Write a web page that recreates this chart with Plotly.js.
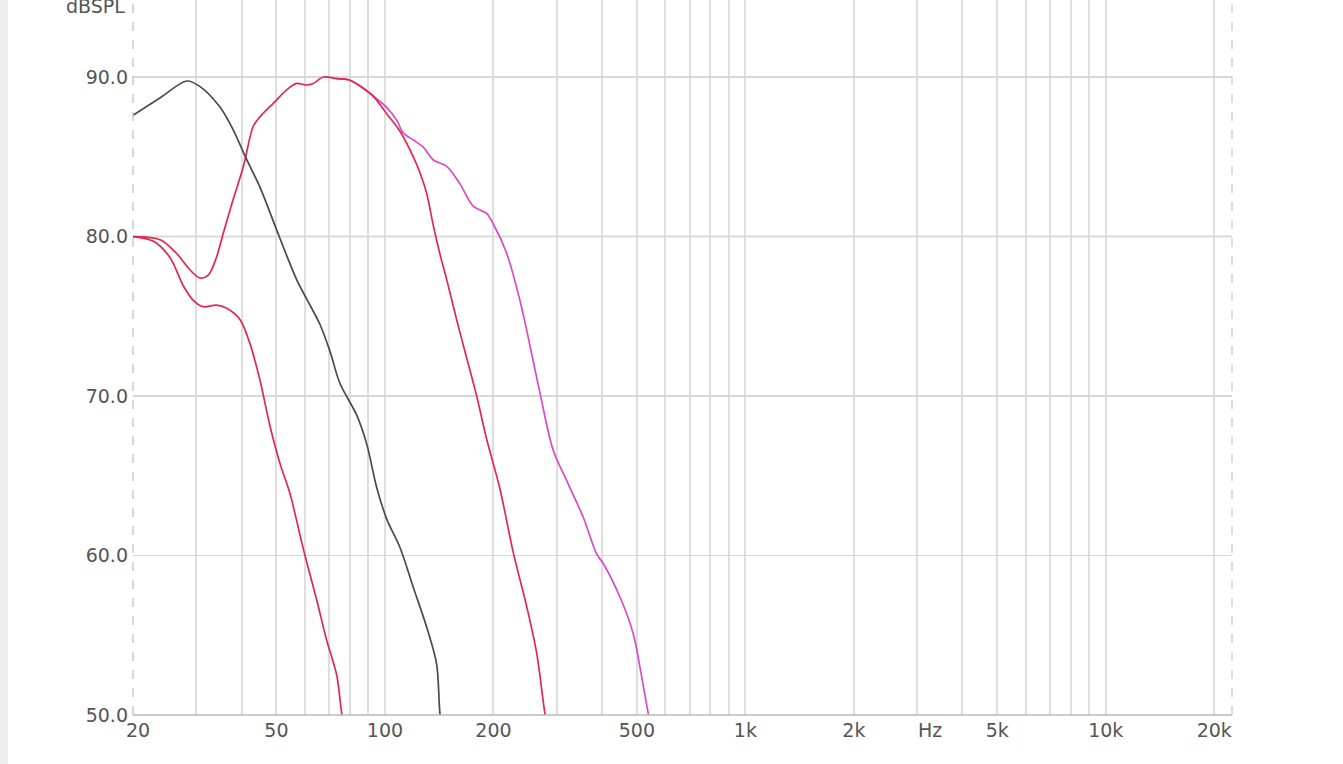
<!DOCTYPE html>
<html>
<head>
<meta charset="utf-8">
<script src="https://cdn.plot.ly/plotly-3.0.1.min.js"></script>
<style>
  html, body { margin: 0; padding: 0; background: #ffffff; }
  #chart { width: 1343px; height: 764px; }
</style>
</head>
<body>
<div id="chart"></div>
<script>
// ---- Data (frequency in Hz, level in dBSPL) ----
const freqBlack = [20.0, 23.8, 28.2, 30.7, 34.9, 37.9, 41.4, 45.0, 50.1, 53.4, 56.9, 60.6, 66.0, 70.4, 75.0, 83.5, 89.0, 94.8, 101.1, 110.1, 119.9, 130.6, 139.1, 142.1, 146.0];
const splBlack  = [87.6, 88.7, 89.75, 89.4, 88.1, 86.7, 84.8, 83.1, 80.4, 78.8, 77.3, 76.1, 74.5, 72.8, 70.8, 68.8, 67.0, 64.3, 62.3, 60.5, 58.0, 55.5, 53.2, 50.1, 48.0];

const freqRedA = [20.0, 22.8, 25.3, 27.6, 29.4, 31.3, 34.1, 36.4, 39.6, 42.2, 45.0, 48.0, 51.1, 54.5, 58.1, 60.0, 64.7, 68.9, 73.5, 75.9, 78.0];
const splRedA  = [80.0, 79.7, 78.7, 76.9, 76.0, 75.6, 75.7, 75.5, 74.8, 73.3, 71.0, 68.1, 65.8, 63.9, 61.3, 60.0, 57.2, 54.7, 52.5, 50.1, 48.8];

const freqRedB = [20.0, 23.8, 26.4, 28.8, 30.7, 32.4, 34.1, 35.6, 37.9, 40.5, 43.1, 45.0, 49.0, 53.4, 56.9, 60.6, 63.3, 67.5, 73.5, 80.0, 87.1, 92.8, 101.1, 110.1, 119.9, 125.1, 130.6, 136.2, 142.1, 148.4, 158.1, 168.5, 179.7, 191.5, 208.4, 227.0, 247.4, 263.6, 277.9, 285.0];
const splRedB  = [80.0, 79.8, 78.95, 77.9, 77.4, 77.6, 78.7, 80.2, 82.3, 84.4, 86.9, 87.5, 88.35, 89.2, 89.6, 89.5, 89.6, 90.0, 89.9, 89.8, 89.3, 88.8, 87.7, 86.6, 85.0, 84.0, 82.7, 80.7, 78.9, 77.3, 74.8, 72.4, 70.0, 67.3, 64.2, 60.2, 56.8, 53.9, 50.1, 48.8];

const freqMagenta = [73.5, 80.0, 87.1, 92.8, 101.1, 107.8, 112.4, 119.9, 127.8, 136.2, 148.4, 161.5, 175.8, 191.5, 199.7, 217.7, 236.9, 252.4, 269.2, 293.0, 319.3, 355.0, 386.7, 403.4, 448.8, 488.6, 510.0, 537.6, 550.0];
const splMagenta  = [89.9, 89.8, 89.3, 88.8, 88.1, 87.3, 86.5, 86.05, 85.6, 84.8, 84.4, 83.3, 81.9, 81.45, 80.8, 78.95, 76.0, 73.2, 70.2, 66.6, 64.7, 62.4, 60.1, 59.5, 57.4, 55.1, 53.0, 50.1, 49.0];

// Axis ticks
const xGridVals = [20,30,40,50,60,70,80,90,100,200,300,400,500,600,700,800,900,1000,2000,3000,4000,5000,6000,7000,8000,9000,10000,20000];
const xLabelMap = {50:'50', 100:'100', 200:'200', 500:'500', 1000:'1k', 2000:'2k', 5000:'5k', 10000:'10k', 20000:'20k'};
const xFirstLabel = '20';
const yTickVals = [50, 60, 70, 80, 90];
const yStrongGrid = [80, 90];
const yAxisName = 'dBSPL';
const xAxisName = 'Hz';

const FONT = 'DejaVu Sans, Liberation Sans, Arial, sans-serif';
const lw = 1.7;

function mk(x, y, color) {
  return { x: x, y: y, type: 'scatter', mode: 'lines',
           line: { color: color, width: lw, shape: 'spline', smoothing: 0.9 },
           hoverinfo: 'skip', showlegend: false };
}

const traces = [
  mk(freqMagenta, splMagenta, '#d84bc6'),
  mk(freqRedA, splRedA, '#e2284f'),
  mk(freqRedB, splRedB, '#e2284f'),
  mk(freqBlack, splBlack, '#4a4a4a')
];

const plotL = 133, plotR = 1232, plotB = 715;
const plotW = plotR - plotL;
const plotH = plotB;

const shapes = [
  { type: 'rect', xref: 'paper', yref: 'paper', x0: -plotL / plotW, x1: (8 - plotL) / plotW, y0: -49 / plotH, y1: 715 / plotH,
    fillcolor: '#eeeeee', line: { width: 0 }, layer: 'below' }
];
yStrongGrid.forEach(v => shapes.push({
  type: 'line', xref: 'paper', yref: 'y', x0: 0, x1: 1, y0: v, y1: v,
  line: { color: '#bcbcbc', width: 1.5 }, layer: 'below'
}));
shapes.push(
  { type: 'line', xref: 'paper', yref: 'paper', x0: 0, x1: 1, y0: 0, y1: 0,
    line: { color: '#b8b8b8', width: 1.5 } },
  { type: 'line', xref: 'paper', yref: 'paper', x0: 0, x1: 0, y0: 0, y1: 1,
    line: { color: '#c4c4c4', width: 1.3, dash: 'dash' } },
  { type: 'line', xref: 'paper', yref: 'paper', x0: 1, x1: 1, y0: 0, y1: 1,
    line: { color: '#cccccc', width: 1.3, dash: 'dash' } }
);

const layout = {
  width: 1343, height: 764,
  margin: { l: plotL, r: 1343 - plotR, t: 0, b: 764 - plotB, pad: 0 },
  paper_bgcolor: '#ffffff', plot_bgcolor: '#ffffff',
  showlegend: false,
  font: { family: FONT, size: 19, color: '#555555' },
  xaxis: {
    type: 'log',
    range: [Math.log10(20), Math.log10(22400)],
    tickmode: 'array',
    tickvals: xGridVals,
    ticktext: xGridVals.map(v => xLabelMap[v] || ''),
    showgrid: true, gridcolor: '#dedede', gridwidth: 2,
    zeroline: false, showline: false, ticks: '',
    ticklabelstandoff: 2,
    tickfont: { family: FONT, size: 19, color: '#555555' },
    fixedrange: true
  },
  yaxis: {
    range: [50, 94.83],
    tickmode: 'array',
    tickvals: yTickVals,
    tickformat: '.1f',
    showgrid: true, gridcolor: '#d8d8d8', gridwidth: 1.5,
    zeroline: false, showline: false, ticks: '',
    ticklabelstandoff: 4,
    tickfont: { family: FONT, size: 19, color: '#555555' },
    fixedrange: true
  },
  shapes: shapes,
  annotations: [
    { text: yAxisName, xref: 'paper', yref: 'paper', x: -6 / plotW, y: 1 - 6 / plotH,
      xanchor: 'right', yanchor: 'middle', showarrow: false,
      font: { family: FONT, size: 19, color: '#555555' } },
    { text: xFirstLabel, xref: 'paper', yref: 'paper', x: 5 / plotW, y: -15 / plotH,
      xanchor: 'center', yanchor: 'middle', showarrow: false,
      font: { family: FONT, size: 19, color: '#555555' } },
    { text: xAxisName, xref: 'x', yref: 'paper', x: Math.log10(3250), y: -15 / plotH,
      xanchor: 'center', yanchor: 'middle', showarrow: false,
      font: { family: FONT, size: 19, color: '#555555' } }
  ]
};

Plotly.newPlot('chart', traces, layout, { staticPlot: true, displayModeBar: false });
</script>
</body>
</html>
